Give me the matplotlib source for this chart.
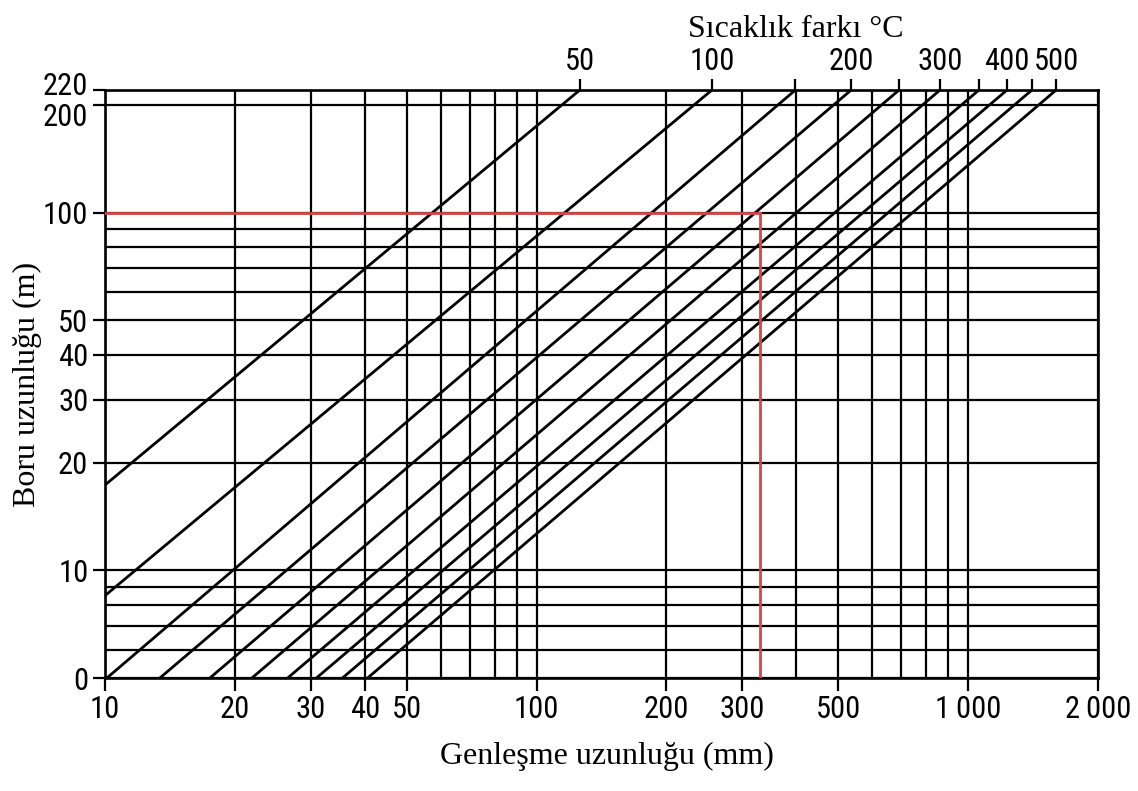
import matplotlib
matplotlib.use('Agg')
import matplotlib.pyplot as plt
import matplotlib.transforms as mtransforms
from matplotlib.ticker import FixedLocator, NullFormatter

# temperature difference of each line (deg C) and where it sits at 5 m and 220 m pipe
delta_t = [50, 100, 150, 200, 250, 300, 350, 400, 450, 500]
delta_t_labels = ['50', '100', '', '200', '', '300', '', '400', '', '500']
expansion_at_5m = [2.9, 5.9, 10.1, 13.4, 17.5, 21.9, 26.5, 30.9, 35.5, 40.6]
expansion_at_220m = [126, 255, 398, 536, 692, 861, 1060, 1231, 1406, 1600]
pipe_ends = [5, 220]

x_ticks = [10, 20, 30, 40, 50, 100, 200, 300, 500, 1000, 2000]
x_tick_labels = ['10', '20', '30', '40', '50', '100', '200', '300', '500',
                 '1\u2009000', '2\u2009000']
x_grid = [60, 70, 80, 90, 400, 600, 700, 800, 900]

y_ticks = [5, 10, 20, 30, 40, 50, 100, 200, 220]
y_tick_labels = ['0', '10', '20', '30', '40', '50', '100', '200', '220']
y_grid = [6, 7, 8, 9, 60, 70, 80, 90]

# worked example drawn in red
example_length = 100
example_expansion = 330

tick_font = dict(family=['Roboto Condensed', 'Liberation Sans Narrow',
                         'DejaVu Sans'], size=22, stretch='condensed')
label_font = dict(family=['Liberation Serif', 'DejaVu Serif'], size=23)

fig = plt.figure(figsize=(11.38, 7.91), dpi=100)
ax = fig.add_axes([105 / 1138, 1 - 678 / 791, 993 / 1138, 588 / 791])
ax.set_xscale('log')
ax.set_yscale('log')
ax.set_xlim(10, 2000)
ax.set_ylim(5, 220)

ax.xaxis.set_major_locator(FixedLocator(x_ticks))
ax.xaxis.set_minor_locator(FixedLocator(x_grid))
ax.yaxis.set_major_locator(FixedLocator(y_ticks))
ax.yaxis.set_minor_locator(FixedLocator(y_grid))
ax.xaxis.set_minor_formatter(NullFormatter())
ax.yaxis.set_minor_formatter(NullFormatter())
ax.set_xticklabels(x_tick_labels, fontdict=tick_font)
ax.set_yticklabels(y_tick_labels, fontdict=tick_font)
ax.tick_params(which='major', direction='out', length=9, width=1.6)
ax.tick_params(axis='x', which='major', pad=3)
ax.tick_params(axis='y', which='major', pad=3)
ax.tick_params(which='minor', length=0)
ax.grid(which='both', color='black', linewidth=1.6)

# 220 and 200 sit close together, nudge their labels apart
ylabels = ax.get_yticklabels()
ylabels[-1].set_transform(ylabels[-1].get_transform() + mtransforms.ScaledTranslation(
    0, 5 / 72, fig.dpi_scale_trans))
ylabels[-2].set_transform(ylabels[-2].get_transform() + mtransforms.ScaledTranslation(
    0, -7 / 72, fig.dpi_scale_trans))

for spine in ax.spines.values():
    spine.set_linewidth(1.9)

# expansion lines
for e0, e1 in zip(expansion_at_5m, expansion_at_220m):
    ax.plot([e0, e1], pipe_ends, color='black', linewidth=2.0,
            solid_capstyle='butt')

# red reading lines
ax.plot([10, example_expansion], [example_length, example_length],
        color='#d04848', linewidth=2, zorder=3)
ax.plot([example_expansion, example_expansion], [example_length, 5],
        color='#d04848', linewidth=2, zorder=3)

ax.set_xlabel('Genleşme uzunluğu (mm)', fontdict=label_font)
ax.xaxis.set_label_coords(0.505, -0.108)
ax.set_ylabel('Boru uzunluğu (m)', fontdict=label_font)
ax.yaxis.set_label_coords(-0.063, 0.5)

# top axis: temperature difference marks at the line ends
top = ax.twiny()
top.set_xscale('log')
top.set_xlim(ax.get_xlim())
top.xaxis.set_major_locator(FixedLocator(expansion_at_220m))
top.xaxis.set_minor_locator(FixedLocator([]))
top.set_xticklabels(delta_t_labels, fontdict=tick_font)
top.tick_params(direction='out', length=8, width=1.6, pad=2)
top.set_xlabel('Sıcaklık farkı °C', fontdict=label_font)
top.xaxis.set_label_coords(0.696, 1.09)
for spine in top.spines.values():
    spine.set_visible(False)

fig.savefig('out.png', dpi=100)
